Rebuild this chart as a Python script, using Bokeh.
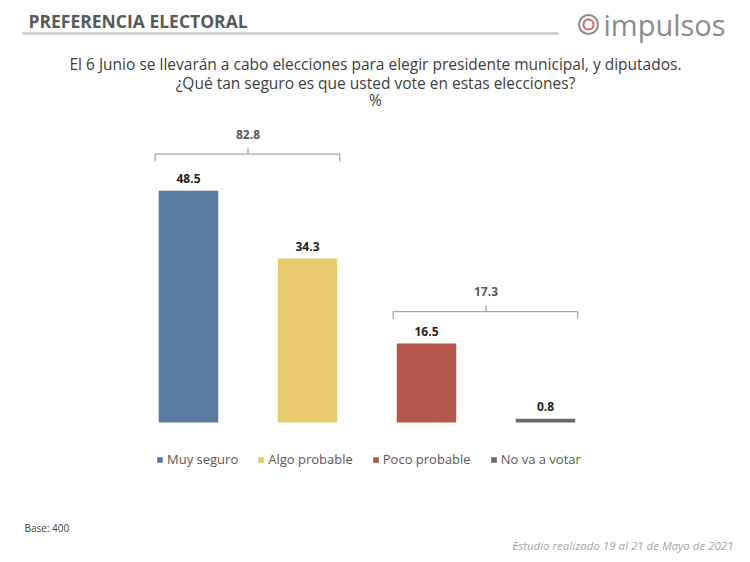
from bokeh.plotting import figure
from bokeh.models import (Range1d, ColumnDataSource, Label, LabelSet, Legend, LegendItem)
from bokeh.core.properties import value
from bokeh.embed import file_html
from bokeh.resources import INLINE

# ---- data ----
categories = ["Muy seguro", "Algo probable", "Poco probable", "No va a votar"]
values = [48.5, 34.3, 16.5, 0.8]
colors = ["#5A7BA0", "#E8C96E", "#B5564B", "#666B73"]
groups = [[0, 1], [2, 3]]  # bracket groupings by category index

title = "PREFERENCIA ELECTORAL"
question = ["El 6 Junio se llevarán a cabo elecciones para elegir presidente municipal, y diputados.",
            "¿Qué tan seguro es que usted vote en estas elecciones?",
            "%"]
base_note = "Base: 400"
study_note = "Estudio realizado 19 al 21 de Mayo de 2021"
brand = "impulsos"

FONT = "Open Sans"
W, H = 750, 562

p = figure(width=W, height=H, output_backend="svg", toolbar_location=None,
           x_range=Range1d(-1.5798, 4.7227), y_range=Range1d(-29.29, 88.28),
           x_axis_location=None, y_axis_location=None, min_border=0,
           outline_line_color=None)
p.grid.visible = False
p.extra_x_ranges = {"px": Range1d(0, W)}
p.extra_y_ranges = {"px": Range1d(H, 0)}

xs = list(range(len(categories)))
src = ColumnDataSource(dict(x=xs, top=values, color=colors, cat=categories,
                            lbl=[f"{v:.1f}" for v in values]))
bars = p.vbar(x="x", top="top", bottom=0, width=0.5, fill_color="color",
              line_color=None, source=src)

p.add_layout(LabelSet(x="x", y="top", text="lbl", source=src, text_align="center",
                      text_baseline="bottom", y_offset=8, text_font=value(FONT),
                      text_font_size="12px", text_font_style="bold", text_color="#1F1F1F"))

# brackets
bx0, bx1, by, tx, ty, tl = [], [], [], [], [], []
for g in groups:
    lo, hi = min(g), max(g)
    top = max(values[i] for i in g)
    yb = top + 6.2 + 0.03 * top
    bx0.append(lo - 0.28); bx1.append(hi + 0.27); by.append(yb)
    tx.append((lo + hi) / 2); ty.append(yb)
    tl.append(f"{sum(values[i] for i in g):.1f}")
bsrc = ColumnDataSource(dict(x0=bx0, x1=bx1, y=by))
p.segment(x0="x0", y0="y", x1="x1", y1="y", source=bsrc, line_color="#A6A6A6", line_width=1.3)
ends_src = ColumnDataSource(dict(x=bx0 + bx1, y=by + by, y1=[v - 1.5 for v in by + by]))
p.segment(x0="x", y0="y", x1="x", y1="y1", source=ends_src,
          line_color="#A6A6A6", line_width=1.3)
csrc = ColumnDataSource(dict(x=tx, y=ty, lbl=tl, y1=[v + 1.3 for v in ty]))
p.segment(x0="x", y0="y", x1="x", y1="y1", source=csrc, line_color="#A6A6A6", line_width=1.3)
p.add_layout(LabelSet(x="x", y="y", text="lbl", source=csrc, text_align="center",
                      text_baseline="middle", y_offset=20, text_font=value(FONT),
                      text_font_size="12px", text_font_style="bold", text_color="#595959"))

# legend
items = [LegendItem(label=c, renderers=[bars], index=i) for i, c in enumerate(categories)]
leg = Legend(items=items, orientation="horizontal", location=(156, 94),
             glyph_width=7, glyph_height=7, label_standoff=4, spacing=19,
             padding=0, margin=0, border_line_color=None, background_fill_alpha=0,
             label_text_font=FONT, label_text_font_size="13px", label_text_color="#595959",
             label_height=14)
p.add_layout(leg, "center")

# header
p.add_layout(Label(x=28, y=20, text=title, x_range_name="px", y_range_name="px",
                   text_font=FONT, text_font_size="17.5px", text_font_style="bold",
                   text_color="#595959", text_baseline="middle"))
p.segment(x0=[22], y0=[33], x1=[558], y1=[33], x_range_name="px", y_range_name="px",
          line_color="#D0D0D0", line_width=3)
p.scatter(x=[588], y=[24], size=19, fill_color="white", line_color="#8C8C8C", line_width=2,
          x_range_name="px", y_range_name="px")
p.scatter(x=[588], y=[24], size=10, fill_color="white", line_color="#C96A5E", line_width=2,
          x_range_name="px", y_range_name="px")
p.add_layout(Label(x=603, y=24, text=brand, x_range_name="px", y_range_name="px",
                   text_font=FONT, text_font_size="29px", text_color="#8C8C8C",
                   text_baseline="middle"))

for t, yy in zip(question, [63, 82, 99]):
    p.add_layout(Label(x=375, y=yy, text=t, x_range_name="px", y_range_name="px",
                       text_font=FONT, text_font_size="15.5px", text_color="#404040",
                       text_align="center", text_baseline="middle"))

p.add_layout(Label(x=24, y=527, text=base_note, x_range_name="px", y_range_name="px",
                   text_font=FONT, text_font_size="10px", text_color="#404040",
                   text_baseline="middle"))
p.add_layout(Label(x=733, y=545, text=study_note, x_range_name="px", y_range_name="px",
                   text_font=FONT, text_font_size="11.5px", text_font_style="italic",
                   text_color="#A6A6A6", text_align="right", text_baseline="middle"))

open("out.html", "w").write(file_html(p, INLINE))
